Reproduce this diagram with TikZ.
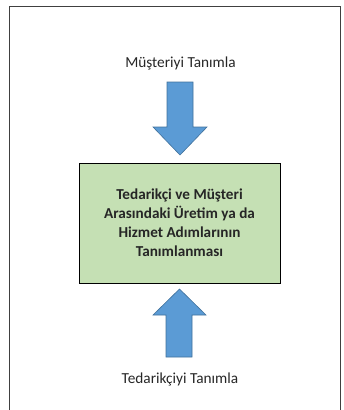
\documentclass[tikz,border=0pt]{standalone}
\usepackage{fontspec}
\setmainfont{Carlito}
\definecolor{arrowblue}{HTML}{5B9BD5}
\definecolor{arrowedge}{HTML}{41719C}
\definecolor{boxgreen}{HTML}{C5E0B4}
\definecolor{framegray}{HTML}{404040}
\tikzset{
  blockarrow/.style={fill=arrowblue, draw=arrowedge, line width=0.6pt},
  label/.style={font=\fontsize{15.3}{18}\selectfont, text=black!85},
  stepbox/.style={draw=black, line width=0.9pt, fill=boxgreen, minimum width=201pt, minimum height=120pt,
    align=center, font=\bfseries\fontsize{15.2}{19}\selectfont, text=black!85}
}
\begin{document}
\begin{tikzpicture}[x=1pt,y=-1pt]
\useasboundingbox (0,0) rectangle (344,410);
% outer frame, open at the bottom
\draw[framegray, line width=1pt] (9,410) -- (9,6) -- (340,6) -- (340,410);
% labels
\node[label] (cust) at (180.5,63) {Müşteriyi Tanımla};
\node[label] (supp) at (180,379) {Tedarikçiyi Tanımla};
% central box
\node[stepbox] (steps) at (179.5,223) {Tedarikçi ve Müşteri\\Arasındaki Üretim ya da\\Hizmet Adımlarının\\Tanımlanması};
% downward block arrow
\draw[blockarrow] (167,82) -- (193,82) -- (193,127) -- (207,127) -- (180,155) -- (153,127) -- (167,127) -- cycle;
% upward block arrow
\draw[blockarrow] (166,357) -- (192,357) -- (192,315) -- (206,315) -- (179.5,289) -- (153,315) -- (166,315) -- cycle;
\end{tikzpicture}
\end{document}
